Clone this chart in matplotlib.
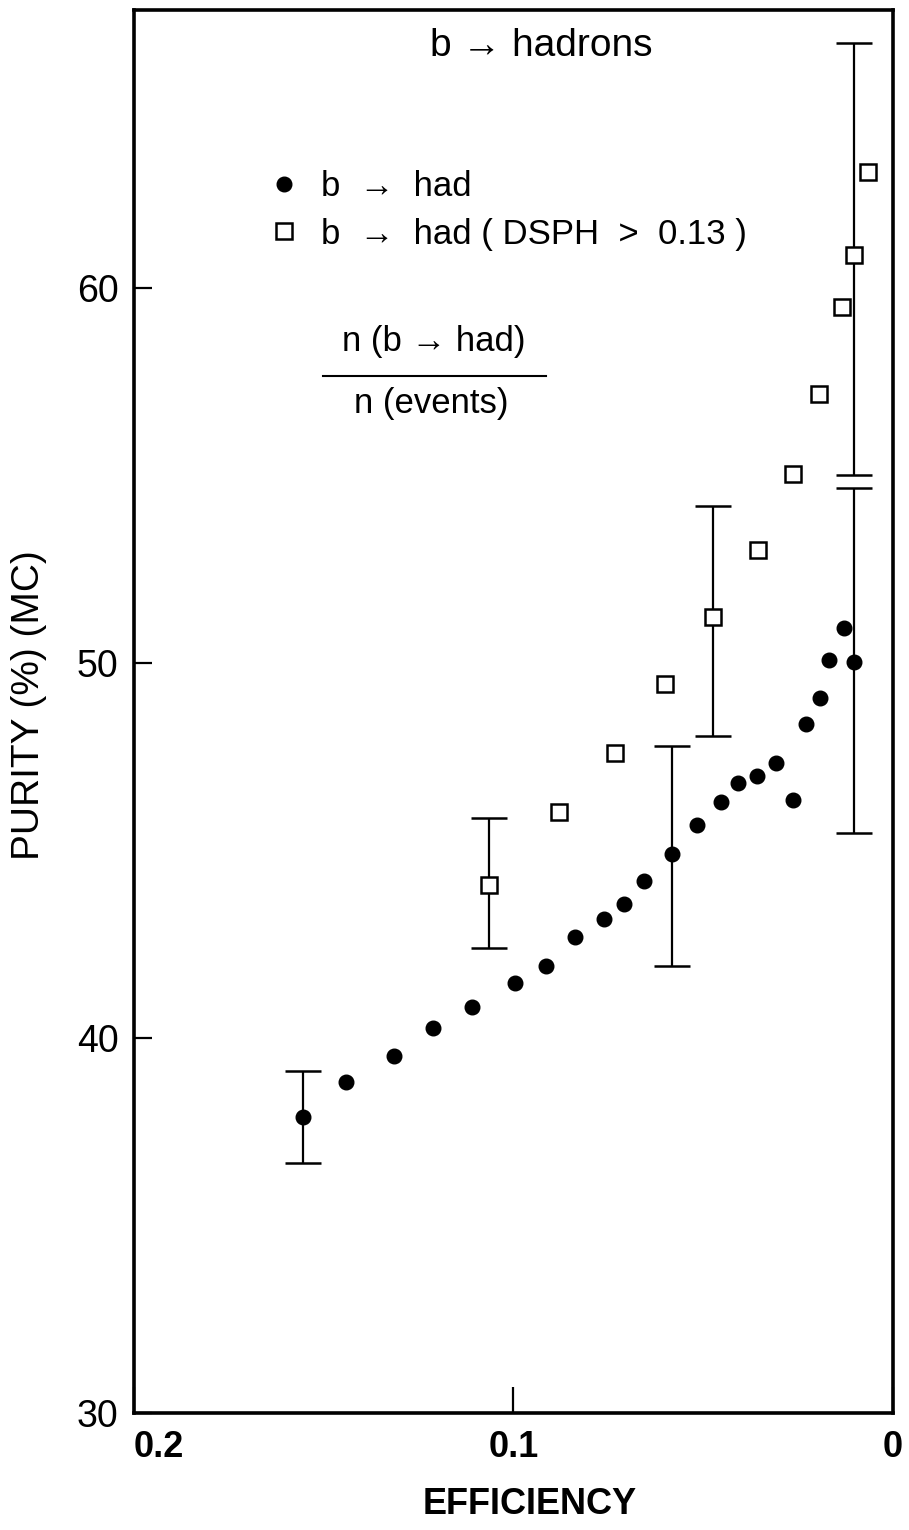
import matplotlib
matplotlib.use("Agg")
import matplotlib.pyplot as plt
from matplotlib.lines import Line2D

# b -> had (filled circles)
circ_eff = [0.1555, 0.1441, 0.1315, 0.1212, 0.1109, 0.0996, 0.0914, 0.0838,
            0.0762, 0.0709, 0.0656, 0.0582, 0.0516, 0.0453, 0.0408, 0.0358,
            0.0308, 0.0264, 0.0229, 0.0192, 0.0169, 0.0129, 0.0102]
circ_pur = [37.89, 38.83, 39.52, 40.27, 40.83, 41.47, 41.92, 42.69,
            43.17, 43.57, 44.19, 44.91, 45.68, 46.29, 46.80, 46.99,
            47.33, 46.35, 48.37, 49.07, 50.08, 50.93, 50.03]
# error bars on selected circles
circ_err_eff = [0.1555, 0.0582, 0.0102]
circ_err_pur = [37.89, 44.91, 50.03]
circ_err_lo = [36.67, 41.92, 45.47]
circ_err_hi = [39.12, 47.79, 54.67]

# b -> had (DSPH > 0.13) (open squares)
sq_eff = [0.1065, 0.0880, 0.0733, 0.0601, 0.0474, 0.0356, 0.0264, 0.0195,
          0.0134, 0.0102, 0.0066]
sq_pur = [44.08, 46.03, 47.60, 49.44, 51.23, 53.01, 55.04, 57.17,
          59.49, 60.88, 63.07]
sq_err_eff = [0.1065, 0.0474, 0.0102]
sq_err_pur = [44.08, 51.23, 60.88]
sq_err_lo = [42.40, 48.05, 55.01]
sq_err_hi = [45.87, 54.19, 66.53]

xticks = [0.2, 0.1, 0]
xticklabels = ["0.2", "0.1", "0"]
yticks = [30, 40, 50, 60]

W, H = 909, 1530
plt.rcParams["font.family"] = ["Liberation Sans", "DejaVu Sans"]

fig = plt.figure(figsize=(W / 100, H / 100), dpi=100)
ax = fig.add_axes([134 / W, 117 / H, (893 - 134) / W, (1413 - 10) / H])

ax.errorbar(circ_err_eff, circ_err_pur,
            yerr=[[p - l for p, l in zip(circ_err_pur, circ_err_lo)],
                  [h - p for p, h in zip(circ_err_pur, circ_err_hi)]],
            fmt="none", ecolor="black", elinewidth=1.6, capsize=13, capthick=1.8, zorder=2)
ax.errorbar(sq_err_eff, sq_err_pur,
            yerr=[[p - l for p, l in zip(sq_err_pur, sq_err_lo)],
                  [h - p for p, h in zip(sq_err_pur, sq_err_hi)]],
            fmt="none", ecolor="black", elinewidth=1.6, capsize=13, capthick=1.8, zorder=2)
l1, = ax.plot(circ_eff, circ_pur, "o", color="black", ms=10.5, ls="none", zorder=3,
              label="b  →  had")
l2, = ax.plot(sq_eff, sq_pur, "s", mfc="white", mec="black", mew=1.8, ms=11, ls="none",
              zorder=3, label="b  →  had ( DSPH  >  0.13 )")

ax.set_xlim(0.2, 0)
ax.set_ylim(30, 67.4)
ax.set_xticks(xticks)
ax.set_xticklabels(xticklabels, fontsize=26, fontweight="bold")
ax.get_xticklabels()[0].set_ha("left")
ax.set_yticks(yticks)
ax.set_yticklabels([str(v) for v in yticks], fontsize=27)
ax.tick_params(axis="x", direction="in", length=19, width=1.6, pad=12)
ax.tick_params(axis="y", direction="in", length=13, width=1.6, pad=11)
for s in ax.spines.values():
    s.set_linewidth(2.6)

ax.set_xlabel("EFFICIENCY", fontsize=26, fontweight="bold")
ax.xaxis.set_label_coords((530 - 134) / 759, (1413 - 1505) / 1403)
ax.xaxis.label.set_va("center")
ax.set_ylabel("PURITY (%) (MC)", fontsize=28)
ax.yaxis.set_label_coords((29 - 134) / 759, (1413 - 705) / 1403)
ax.yaxis.label.set_va("center")

leg = ax.legend(handles=[l1, l2], loc="upper left", frameon=False, fontsize=25,
                bbox_to_anchor=(267 / W, 1 - 170 / H), bbox_transform=fig.transFigure,
                borderpad=0, borderaxespad=0, handlelength=1.0, handletextpad=0.55,
                labelspacing=0.42)

fig.text(541 / W, 1 - 46 / H, "b → hadrons", fontsize=28, ha="center", va="center")
fig.text(434 / W, 1 - 342 / H, "n (b → had)", fontsize=25, ha="center", va="center")
fig.add_artist(Line2D([323 / W, 546 / W], [1 - 376 / H, 1 - 376 / H],
                      transform=fig.transFigure, color="black", lw=1.5))
fig.text(431 / W, 1 - 403 / H, "n (events)", fontsize=25, ha="center", va="center")

fig.savefig("out.png", dpi=100)
